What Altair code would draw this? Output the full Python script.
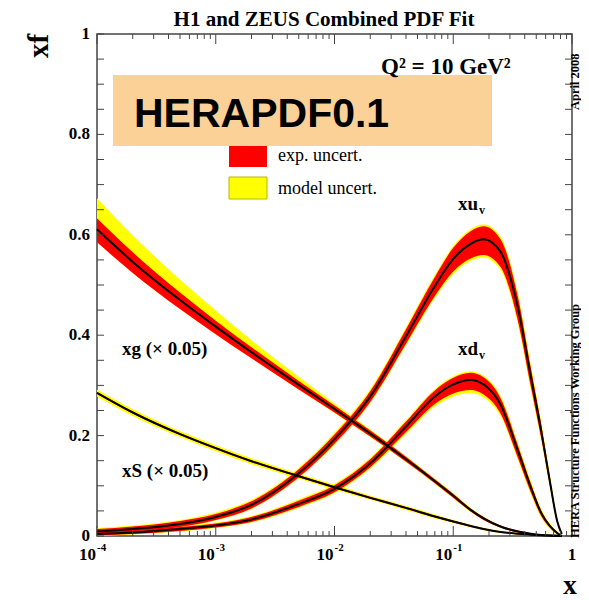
import altair as alt
import pandas as pd

W, H = 475, 502
SERIF = "Liberation Serif"
SANS = "Liberation Sans"

# common x grid
x_grid = [1e-4, 2e-4, 5e-4, 1e-3, 2e-3, 5e-3, 1e-2, 2e-2, 4e-2, 0.07,
          0.1, 0.14, 0.18, 0.25, 0.35, 0.45, 0.55, 0.65, 0.75, 0.82]

# xu_v
xuv_c   = [0.009, 0.014, 0.024, 0.038, 0.062, 0.125, 0.193, 0.278, 0.398, 0.498,
           0.552, 0.582, 0.591, 0.566, 0.455, 0.318, 0.210, 0.110, 0.030, 0.004]
xuv_edn = [0.005, 0.005, 0.006, 0.006, 0.007, 0.008, 0.009, 0.011, 0.015, 0.020,
           0.025, 0.029, 0.031, 0.030, 0.026, 0.020, 0.015, 0.009, 0.004, 0.001]
xuv_eup = [0.005, 0.005, 0.006, 0.006, 0.007, 0.008, 0.009, 0.011, 0.014, 0.018,
           0.022, 0.025, 0.026, 0.025, 0.022, 0.017, 0.013, 0.008, 0.004, 0.001]
xuv_mdn = [0.001, 0.001, 0.001, 0.001, 0.001, 0.001, 0.002, 0.002, 0.003, 0.004,
           0.005, 0.005, 0.005, 0.006, 0.006, 0.006, 0.005, 0.004, 0.002, 0.001]
xuv_mup = [0.002, 0.002, 0.002, 0.003, 0.003, 0.003, 0.004, 0.004, 0.004, 0.004,
           0.004, 0.004, 0.004, 0.005, 0.006, 0.006, 0.005, 0.004, 0.002, 0.000]

# xd_v
xdv_c   = [0.004, 0.007, 0.014, 0.021, 0.033, 0.064, 0.094, 0.145, 0.218, 0.278,
           0.302, 0.311, 0.302, 0.262, 0.170, 0.097, 0.046, 0.020, 0.006, 0.000]
xdv_edn = [0.003, 0.003, 0.004, 0.004, 0.005, 0.006, 0.007, 0.008, 0.011, 0.015,
           0.018, 0.020, 0.020, 0.018, 0.014, 0.010, 0.006, 0.003, 0.002, 0.000]
xdv_eup = [0.003, 0.003, 0.004, 0.004, 0.005, 0.006, 0.007, 0.008, 0.010, 0.012,
           0.013, 0.014, 0.014, 0.013, 0.011, 0.008, 0.005, 0.003, 0.002, 0.000]
xdv_mdn = [0.001, 0.001, 0.001, 0.001, 0.001, 0.002, 0.002, 0.003, 0.004, 0.005,
           0.006, 0.006, 0.006, 0.005, 0.004, 0.004, 0.003, 0.002, 0.001, 0.000]
xdv_mup = [0.001, 0.001, 0.002, 0.002, 0.002, 0.003, 0.003, 0.003, 0.003, 0.003,
           0.003, 0.003, 0.003, 0.004, 0.004, 0.004, 0.003, 0.002, 0.001, 0.000]

# xg (x 0.05)
xg_c   = [0.611, 0.546, 0.470, 0.417, 0.366, 0.301, 0.253, 0.204, 0.153, 0.109,
          0.080, 0.052, 0.035, 0.019, 0.009, 0.0045, 0.002, 0.001, 0.0004, 0.000]
xg_edn = [0.026, 0.022, 0.018, 0.015, 0.012, 0.009, 0.007, 0.006, 0.005, 0.004,
          0.004, 0.003, 0.003, 0.002, 0.002, 0.001, 0.001, 0.001, 0.0005, 0.000]
xg_eup = [0.022, 0.019, 0.015, 0.012, 0.010, 0.008, 0.007, 0.006, 0.005, 0.004,
          0.004, 0.003, 0.003, 0.002, 0.002, 0.001, 0.001, 0.001, 0.0005, 0.000]
xg_mdn = [0.000, 0.000, 0.000, 0.000, 0.000, 0.000, 0.001, 0.001, 0.001, 0.001,
          0.001, 0.001, 0.000, 0.000, 0.000, 0.000, 0.000, 0.000, 0.000, 0.000]
xg_mup = [0.040, 0.034, 0.026, 0.020, 0.014, 0.008, 0.004, 0.002, 0.001, 0.001,
          0.001, 0.001, 0.0005, 0.000, 0.000, 0.000, 0.000, 0.000, 0.000, 0.000]

# xS (x 0.05)
xs_c   = [0.285, 0.246, 0.203, 0.175, 0.149, 0.119, 0.097, 0.076, 0.056, 0.039,
          0.029, 0.020, 0.014, 0.008, 0.0045, 0.0025, 0.0015, 0.0008, 0.0003, 0.000]
xs_edn = [0.002, 0.002, 0.002, 0.002, 0.002, 0.002, 0.002, 0.002, 0.002, 0.002,
          0.002, 0.0015, 0.0015, 0.001, 0.001, 0.001, 0.0005, 0.0005, 0.0003, 0.000]
xs_eup = xs_edn
xs_mdn = [0.005, 0.005, 0.004, 0.004, 0.004, 0.003, 0.003, 0.002, 0.002, 0.002,
          0.001, 0.001, 0.001, 0.001, 0.0005, 0.0005, 0.0003, 0.0002, 0.0001, 0.000]
xs_mup = xs_mdn

# axis tick positions / labels
y_tick_vals = [0.0, 0.05, 0.1, 0.15, 0.2, 0.25, 0.3, 0.35, 0.4, 0.45, 0.5,
               0.55, 0.6, 0.65, 0.7, 0.75, 0.8, 0.85, 0.9, 0.95, 1.0]
y_label_vals = [0.0, 0.2, 0.4, 0.6, 0.8, 1.0]
y_label_txt = ["0", "0.2", "0.4", "0.6", "0.8", "1"]
x_major = [1e-4, 1e-3, 1e-2, 1e-1, 1.0]
x_minor = [k * 10.0 ** d for d in (-4, -3, -2, -1) for k in range(2, 10)]
x_lab_vals = [1e-4, 1e-3, 1e-2, 1e-1]
x_lab_exp = ["-4", "-3", "-2", "-1"]

curves = [
    ("xuv", xuv_c, xuv_edn, xuv_eup, xuv_mdn, xuv_mup),
    ("xdv", xdv_c, xdv_edn, xdv_eup, xdv_mdn, xdv_mup),
    ("xg", xg_c, xg_edn, xg_eup, xg_mdn, xg_mup),
    ("xS", xs_c, xs_edn, xs_eup, xs_mdn, xs_mup),
]
rows = []
for name, c, edn, eup, mdn, mup in curves:
    for i, xv in enumerate(x_grid):
        rows.append(dict(pdf=name, x=xv, c=c[i],
                         elo=max(0.0, c[i] - edn[i]), ehi=c[i] + eup[i],
                         mlo=max(0.0, c[i] - edn[i] - mdn[i]),
                         mhi=c[i] + eup[i] + mup[i]))
df = pd.DataFrame(rows)

xs = alt.Scale(type="log", domain=[1e-4, 1], nice=False)
ys = alt.Scale(domain=[0, 1], nice=False)
X = alt.X("x:Q", scale=xs, axis=None)

base = alt.Chart(df)
yellow = base.mark_area(color="#FFFF00", interpolate="monotone").encode(
    x=X, y=alt.Y("mlo:Q", scale=ys, axis=None), y2="mhi:Q", detail="pdf:N")
red = base.mark_area(color="#FF0000", interpolate="monotone").encode(
    x=X, y=alt.Y("elo:Q", scale=ys, axis=None), y2="ehi:Q", detail="pdf:N")
line = base.mark_line(color="black", strokeWidth=2, interpolate="monotone").encode(
    x=X, y=alt.Y("c:Q", scale=ys, axis=None), detail="pdf:N")

TC = "#444444"
ydf = pd.DataFrame({"v": y_tick_vals})
yt_left = alt.Chart(ydf).mark_rule(color=TC, strokeWidth=1).encode(
    y=alt.Y("v:Q", scale=ys, axis=None), x=alt.value(0), x2=alt.value(7))
yt_right = alt.Chart(ydf).mark_rule(color=TC, strokeWidth=1).encode(
    y=alt.Y("v:Q", scale=ys, axis=None), x=alt.value(W - 7), x2=alt.value(W))
xmaj = pd.DataFrame({"v": x_major})
xmin = pd.DataFrame({"v": x_minor})
xt = []
for d, ln in ((xmaj, 10), (xmin, 5)):
    xt.append(alt.Chart(d).mark_rule(color=TC, strokeWidth=1).encode(
        x=alt.X("v:Q", scale=xs, axis=None), y=alt.value(H), y2=alt.value(H - ln)))
    xt.append(alt.Chart(d).mark_rule(color=TC, strokeWidth=1).encode(
        x=alt.X("v:Q", scale=xs, axis=None), y=alt.value(0), y2=alt.value(ln)))

ylab = alt.Chart(pd.DataFrame({"v": y_label_vals, "t": y_label_txt})).mark_text(
    font=SERIF, fontSize=17, fontWeight="bold", align="right", baseline="middle",
    color="black").encode(y=alt.Y("v:Q", scale=ys, axis=None), x=alt.value(-7), text="t:N")
xlab_base = alt.Chart(pd.DataFrame({"v": x_lab_vals})).mark_text(
    font=SERIF, fontSize=17, fontWeight="bold", align="right", baseline="alphabetic",
    dx=-1, color="black").encode(x=alt.X("v:Q", scale=xs, axis=None),
                                 y=alt.value(H + 24), text=alt.value("10"))
xlab_exp = alt.Chart(pd.DataFrame({"v": x_lab_vals, "t": x_lab_exp})).mark_text(
    font=SERIF, fontSize=11, fontWeight="bold", align="left", baseline="alphabetic",
    color="black").encode(x=alt.X("v:Q", scale=xs, axis=None),
                          y=alt.value(H + 15), text="t:N")
xlab_one = alt.Chart(pd.DataFrame({"v": [1.0]})).mark_text(
    font=SERIF, fontSize=17, fontWeight="bold", align="center", baseline="alphabetic",
    color="black").encode(x=alt.X("v:Q", scale=xs, axis=None),
                          y=alt.value(H + 24), text=alt.value("1"))


def ptext(t, px, py, size, weight="bold", font=SERIF, angle=0, align="left",
          baseline="alphabetic", color="black"):
    return alt.Chart(pd.DataFrame({"t": [t]})).mark_text(
        font=font, fontSize=size, fontWeight=weight, angle=angle, align=align,
        baseline=baseline, color=color).encode(
        text="t:N", x=alt.value(px), y=alt.value(py))


def dtext(t, xv, yv, size, dx=0, dy=0):
    return alt.Chart(pd.DataFrame({"t": [t], "x": [xv], "y": [yv]})).mark_text(
        font=SERIF, fontSize=size, fontWeight="bold", align="left",
        baseline="alphabetic", dx=dx, dy=dy, color="black").encode(
        text="t:N", x=alt.X("x:Q", scale=xs, axis=None),
        y=alt.Y("y:Q", scale=ys, axis=None))


one = pd.DataFrame({"a": [0]})
leg_red = alt.Chart(one).mark_rect(color="#FF0000").encode(
    x=alt.value(132), x2=alt.value(170), y=alt.value(106), y2=alt.value(133))
leg_yel = alt.Chart(one).mark_rect(color="#FFFF00", stroke="#B8B800", strokeWidth=1).encode(
    x=alt.value(132), x2=alt.value(170), y=alt.value(143), y2=alt.value(165))
box = alt.Chart(one).mark_rect(color="#FCD197").encode(
    x=alt.value(16), x2=alt.value(395), y=alt.value(41), y2=alt.value(112))

layers = [yellow, red, line, yt_left, yt_right] + xt + [
    ylab, xlab_base, xlab_exp, xlab_one,
    dtext("xu", 0.1096, 0.649, 19), dtext("v", 0.1096, 0.649, 12, dx=21, dy=4),
    dtext("xd", 0.1096, 0.3606, 19), dtext("v", 0.1096, 0.3606, 12, dx=21, dy=4),
    dtext("xg (× 0.05)", 1.625e-4, 0.3606, 19),
    dtext("xS (× 0.05)", 1.625e-4, 0.1175, 19),
    leg_red, leg_yel,
    ptext("exp. uncert.", 181, 127, 18, weight="normal"),
    ptext("model uncert.", 181, 160, 18, weight="normal"),
    box,
    ptext("HERAPDF0.1", 37, 93, 41, font=SANS),
    ptext("Q² = 10 GeV²", 284, 40, 23),
    ptext("H1 and ZEUS Combined PDF Fit", 227, -8, 21, align="center"),
    ptext("xf", -58, 12, 29, angle=270, align="center", baseline="middle"),
    ptext("x", 473, 560, 27, align="center"),
    ptext("HERA Structure Functions Working Group", 482, 504, 12.5, angle=270),
    ptext("April 2008", 482, 76, 12.5, angle=270),
]

chart = alt.layer(*layers).properties(
    width=W, height=H,
    padding={"left": 89, "top": 26, "right": 9, "bottom": 64},
    autosize=alt.AutoSizeParams(type="none"),
).configure_view(stroke="#444444", strokeWidth=1.5)

chart.save("out.html", embed_options={"renderer": "svg", "actions": False})
